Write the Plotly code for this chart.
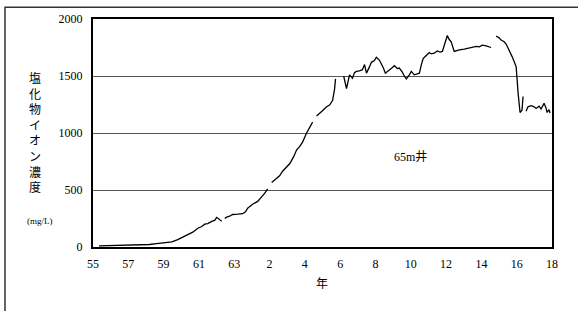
import plotly.graph_objects as go

# Time axis (decimal calendar year), None marks gaps in the record
years = [
    1980.34, 1980.96, 1981.8, 1982.66, 1983.2, 1983.6, 1984.07, 1984.47, 1984.8, 1985.09,
    1985.31, 1985.48, 1985.65, 1985.94, 1986.16, 1986.33, 1986.5, 1986.73, 1986.9, 1987.01,
    1987.12, 1987.29, 1987.36,
    1987.46, 1987.57, 1987.74, 1987.91, 1988.2, 1988.48, 1988.65, 1988.76, 1989.04, 1989.33,
    1989.55, 1989.72, 1989.89, 1990.0,
    1990.12, 1990.4, 1990.57, 1990.74, 1990.97, 1991.14, 1991.36, 1991.53, 1991.7, 1991.87,
    1992.1, 1992.27, 1992.44, 1992.55,
    1992.66, 1992.83, 1993.0, 1993.23, 1993.4, 1993.57, 1993.68, 1993.74, 1994.0,
    1994.2, 1994.36, 1994.53, 1994.7, 1994.81, 1994.92, 1995.09, 1995.26, 1995.38, 1995.49,
    1995.66, 1995.77, 1995.94, 1996.05, 1996.22, 1996.34, 1996.45, 1996.56, 1996.73, 1996.85,
    1996.96, 1997.07, 1997.24, 1997.35, 1997.52, 1997.63, 1997.75, 1997.92, 1998.03, 1998.2,
    1998.37, 1998.49, 1998.6, 1998.71, 1998.88, 1999.05, 1999.16, 1999.33, 1999.5, 1999.67,
    1999.79, 1999.96, 2000.07, 2000.18, 2000.29, 2000.46, 2000.75, 2001.03, 2001.31, 2001.54,
    2001.71, 2001.88, 2002.05, 2002.27, 2002.44, 2002.55, 2002.7,
    2002.84, 2003.0, 2003.12, 2003.29, 2003.4, 2003.57, 2003.74, 2003.85, 2003.97, 2004.08,
    2004.19, 2004.3, 2004.36, 2004.45,
    2004.53, 2004.64, 2004.82, 2004.99, 2005.1, 2005.27, 2005.38, 2005.55, 2005.66, 2005.72,
    2005.83, 2005.89,
]
chloride = [
    10, 12, 14, 18, 22, 30, 38, 45, 65, 85,
    100, 115, 130, 165, 180, 200, 205, 225, 235, 260,
    245, 225, None,
    250, 262, 270, 285, 288, 292, 310, 340, 375, 400,
    440, 470, 510, None,
    565, 600, 625, 665, 705, 730, 790, 850, 880, 920,
    1000, 1050, 1095, None,
    1150, 1170, 1195, 1230, 1245, 1285, 1380, 1475, None,
    1500, 1390, 1510, 1480, 1530, 1540, 1545, 1555, 1600, 1525,
    1580, 1620, 1635, 1665, 1640, 1610, 1570, 1525, 1545, 1555,
    1575, 1590, 1565, 1570, 1535, 1500, 1475, 1510, 1540, 1510,
    1520, 1525, 1600, 1655, 1680, 1705, 1695, 1700, 1720, 1710,
    1715, 1800, 1855, 1820, 1800, 1715, 1730, 1735, 1745, 1750,
    1760, 1755, 1770, 1765, 1755, 1750, None,
    1850, 1835, 1815, 1800, 1780, 1730, 1670, 1630, 1580, 1350,
    1180, 1200, 1320, None,
    1190, 1230, 1240, 1230, 1215, 1235, 1210, 1260, 1220, 1180,
    1205, 1175,
]

tick_years = [1980, 1982, 1984, 1986, 1988, 1990, 1992, 1994, 1996, 1998, 2000, 2002, 2004, 2006]
tick_labels = ["55", "57", "59", "61", "63", "2", "4", "6", "8", "10", "12", "14", "16", "18"]
y_ticks = [0, 500, 1000, 1500, 2000]

serif = "Liberation Serif, Noto Sans CJK JP, serif"

fig = go.Figure()
fig.add_trace(go.Scatter(
    x=years, y=chloride, mode="lines",
    line=dict(color="black", width=1.3),
    connectgaps=False, showlegend=False, hoverinfo="skip",
))

fig.update_layout(
    width=578, height=311,
    margin=dict(l=93, r=26, t=15, b=64),
    paper_bgcolor="white", plot_bgcolor="white",
    font=dict(family=serif, color="black", size=12),
    xaxis=dict(
        range=[1980, 2006], tickmode="array", tickvals=tick_years, ticktext=tick_labels,
        showgrid=False, zeroline=False, showline=True, linecolor="black", linewidth=2,
        mirror=True, ticks="outside", ticklen=5, tickcolor="rgba(0,0,0,0)",
        tickfont=dict(size=12, family=serif),
    ),
    yaxis=dict(
        range=[0, 2000], tickmode="array", tickvals=y_ticks,
        showgrid=True, gridcolor="#555555", gridwidth=1, zeroline=False,
        showline=True, linecolor="black", linewidth=2, mirror=True,
        ticks="outside", ticklen=6, tickcolor="rgba(0,0,0,0)",
        tickfont=dict(size=12, family=serif),
    ),
)

# outer frame
fig.add_shape(type="rect", xref="paper", yref="paper",
              x0=(5 - 93) / 459, x1=(600 - 93) / 459,
              y0=(247 - 330) / 232, y1=(247 - 3) / 232,
              line=dict(color="#333333", width=1.5), fillcolor="rgba(0,0,0,0)", layer="below")

# vertical y-axis title
fig.add_annotation(xref="paper", yref="paper",
                   x=(35 - 93) / 459, y=(247 - 130) / 232,
                   text="<br>".join(list("塩化物イオン濃度")),
                   showarrow=False, font=dict(size=12, family="Noto Sans CJK JP"),
                   xanchor="center", yanchor="middle")
fig.add_annotation(xref="paper", yref="paper",
                   x=(40 - 93) / 459, y=(247 - 221) / 232,
                   text="(mg/L)", showarrow=False, font=dict(size=9, family=serif),
                   xanchor="center", yanchor="middle")
fig.add_annotation(xref="paper", yref="paper",
                   x=(322 - 93) / 459, y=(247 - 283) / 232,
                   text="年", showarrow=False, font=dict(size=12, family="Noto Sans CJK JP"),
                   xanchor="center", yanchor="middle")
fig.add_annotation(xref="paper", yref="paper",
                   x=(410 - 93) / 459, y=(247 - 155) / 232,
                   text="65m井", showarrow=False, font=dict(size=12, family=serif),
                   xanchor="center", yanchor="middle")

fig.write_html("out.html", config={"displayModeBar": False},
               post_script="document.body.style.margin='0';")
